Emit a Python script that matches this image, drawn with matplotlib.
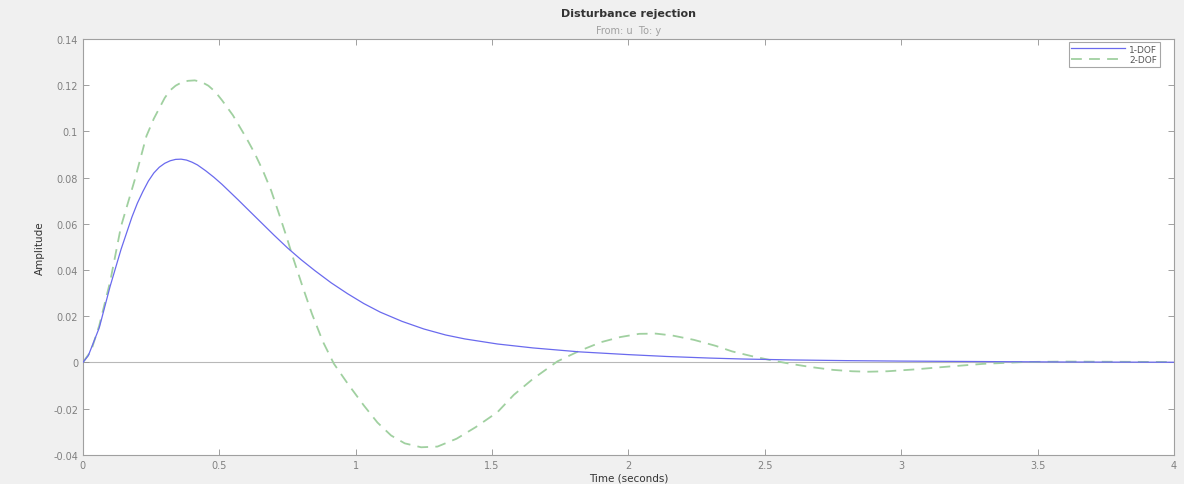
import matplotlib
matplotlib.use("Agg")
import matplotlib.pyplot as plt

# ---- data ----
t_1dof = [0, 0.02, 0.04, 0.06, 0.08, 0.1, 0.12, 0.14, 0.16, 0.18, 0.2, 0.22, 0.24, 0.26,
          0.28, 0.3, 0.32, 0.34, 0.36, 0.38, 0.4, 0.42, 0.45, 0.48, 0.51, 0.54, 0.57,
          0.6, 0.65, 0.7, 0.75, 0.8, 0.85, 0.91, 0.97, 1.03, 1.09, 1.17, 1.25, 1.33,
          1.4, 1.52, 1.65, 1.82, 2.0, 2.14, 2.3, 2.42, 2.6, 2.8, 3.0, 3.3, 3.6, 4.0]
y_1dof = [0, 0.003, 0.009, 0.015, 0.024, 0.033, 0.041, 0.049, 0.056, 0.063, 0.069,
          0.074, 0.0785, 0.082, 0.0845, 0.0862, 0.0873, 0.0879, 0.088, 0.0876, 0.0867,
          0.0855, 0.083, 0.0802, 0.0771, 0.0737, 0.0703, 0.0668, 0.061, 0.0552, 0.0496,
          0.0445, 0.0398, 0.0345, 0.0298, 0.0255, 0.0218, 0.0178, 0.0145, 0.0119, 0.0102,
          0.0080, 0.0063, 0.0046, 0.0034, 0.0026, 0.0019, 0.0015, 0.0011, 0.0008, 0.0006,
          0.0004, 0.0002, 0.0001]

t_2dof = [0, 0.03, 0.06, 0.1, 0.14, 0.19, 0.233, 0.26, 0.28, 0.3, 0.32, 0.34, 0.36,
          0.385, 0.41, 0.435, 0.46, 0.485, 0.51, 0.55, 0.6, 0.63, 0.66, 0.69, 0.72,
          0.745, 0.77, 0.805, 0.84, 0.88, 0.92, 0.97, 1.03, 1.08, 1.13, 1.18, 1.24,
          1.3, 1.37, 1.44, 1.52, 1.58, 1.65, 1.74, 1.82, 1.9, 1.97, 2.04, 2.1, 2.16,
          2.24, 2.32, 2.38, 2.45, 2.53, 2.6, 2.67, 2.75, 2.82, 2.88, 2.95, 3.05, 3.15,
          3.3, 3.45, 3.6, 3.8, 4.0]
y_2dof = [0, 0.005, 0.016, 0.035, 0.059, 0.079, 0.098, 0.1055, 0.110, 0.1145, 0.1178,
          0.1198, 0.1211, 0.1219, 0.1221, 0.1214, 0.1198, 0.1172, 0.1135, 0.107, 0.097,
          0.0905, 0.083, 0.0745, 0.064, 0.055, 0.0455, 0.033, 0.021, 0.009, -0.0005,
          -0.009, -0.0186, -0.026, -0.0316, -0.035, -0.0367, -0.0364, -0.033, -0.028,
          -0.0215, -0.014, -0.0071, 0.0005, 0.005, 0.0088, 0.011, 0.0124, 0.0125,
          0.0117, 0.0098, 0.0072, 0.0048, 0.0028, 0.0008, -0.0007, -0.002, -0.0032,
          -0.0038, -0.0040, -0.0038, -0.003, -0.002, -0.0006, 0.0002, 0.0004, 0.0003,
          0.0002]

series_names = ["1-DOF", "2-DOF"]
x_ticks = [0, 0.5, 1, 1.5, 2, 2.5, 3, 3.5, 4]
x_tick_labels = ["0", "0.5", "1", "1.5", "2", "2.5", "3", "3.5", "4"]
y_ticks = [-0.04, -0.02, 0, 0.02, 0.04, 0.06, 0.08, 0.1, 0.12, 0.14]
y_tick_labels = ["-0.04", "-0.02", "0", "0.02", "0.04", "0.06", "0.08", "0.1", "0.12", "0.14"]

# ---- figure ----
fig = plt.figure(figsize=(11.84, 4.85), dpi=100, facecolor="#f0f0f0")
ax = fig.add_axes([0.070, 0.060, 0.9215, 0.8575])
ax.set_facecolor("white")

ax.axhline(0, color="#b8b8b8", lw=0.8, zorder=1)
ax.plot(t_1dof, y_1dof, color="#6a6aee", lw=0.9, label=series_names[0], zorder=3)
ax.plot(t_2dof, y_2dof, color="#a0d0a0", lw=1.3, ls=(0, (6, 4)), label=series_names[1], zorder=2)

ax.set_xlim(0, 4)
ax.set_ylim(-0.04, 0.14)
ax.set_xticks(x_ticks)
ax.set_xticklabels(x_tick_labels)
ax.set_yticks(y_ticks)
ax.set_yticklabels(y_tick_labels)
ax.tick_params(direction="in", top=True, right=True, length=4, width=0.6,
               colors="#909090", labelcolor="#808080", labelsize=7)
for s in ax.spines.values():
    s.set_color("#a0a0a0")
    s.set_linewidth(0.8)

ax.set_xlabel("Time (seconds)", fontsize=7.5, color="#333333", labelpad=2)
ax.set_ylabel("Amplitude", fontsize=7.5, color="#333333", labelpad=6)

fig.text(0.5308, 0.972, "Disturbance rejection", ha="center", va="center",
         fontsize=8, fontweight="bold", color="#333333")
fig.text(0.5308, 0.937, "From: u  To: y", ha="center", va="center",
         fontsize=7, color="#a0a0a0")

leg = ax.legend(loc="upper right", fontsize=6.5, frameon=True, fancybox=False,
                edgecolor="#909090", handlelength=6, borderpad=0.3,
                labelspacing=0.15, borderaxespad=0, handletextpad=0.4,
                bbox_to_anchor=(0.987, 0.993))
leg.get_frame().set_linewidth(0.8)
for txt in leg.get_texts():
    txt.set_color("#555555")

fig.savefig("out.png", dpi=100, facecolor=fig.get_facecolor())
